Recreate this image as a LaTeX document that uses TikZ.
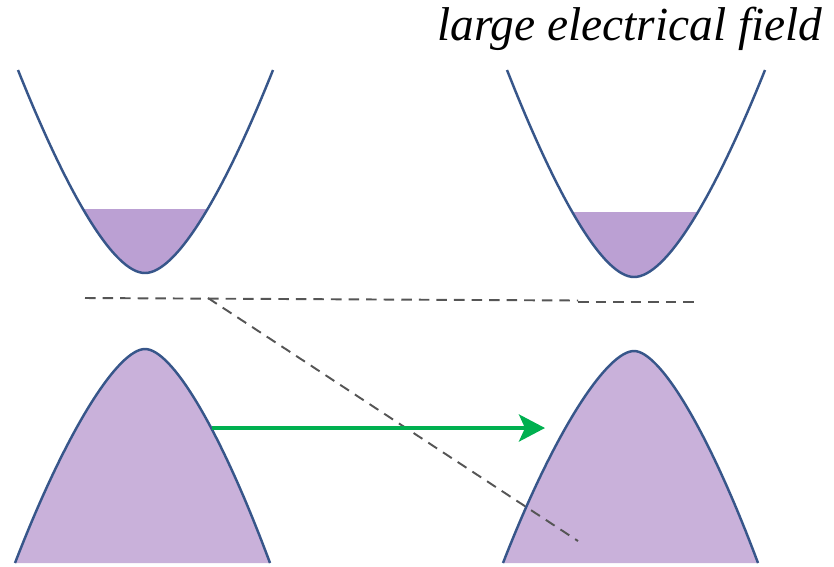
\documentclass[tikz,border=0pt]{standalone}
\usepackage{fontspec}
\setmainfont{Liberation Serif}
\usetikzlibrary{arrows.meta}
\definecolor{bandblue}{RGB}{55,86,138}
\definecolor{cbfill}{RGB}{187,160,211}
\definecolor{vbfill}{RGB}{201,177,218}
\definecolor{fieldgreen}{RGB}{0,176,80}
\definecolor{levelgray}{RGB}{85,85,85}
\begin{document}
\begin{tikzpicture}[x=0.02cm,y=-0.02cm,>=Stealth,
  band/.style={bandblue,line width=1.4pt},
  level/.style={levelgray,line width=1.1pt,dash pattern=on 6pt off 4pt},
  transfer/.style={-{Stealth[length=0.52cm,width=0.54cm,inset=0.12cm]},fieldgreen,line width=2.3pt}]
 \useasboundingbox (0,0) rectangle (834,566);
 \node[font=\fontsize{27}{31}\selectfont\itshape,anchor=base east,inner sep=0pt] (fieldlabel) at (823,40) {large electrical field};
 % left: without field
 \begin{scope}[shift={(145,273)}]
  \begin{scope} \clip (-150,-64) rectangle (150,10);
   \fill[cbfill] (-127,-203) .. controls (-75,-73) and (-30,0) .. (0,0) .. controls (30,0) and (76,-73) .. (128,-203) -- cycle; \end{scope}
  \draw[band] (-127,-203) .. controls (-75,-73) and (-30,0) .. (0,0) .. controls (30,0) and (76,-73) .. (128,-203);
 \end{scope}
 \begin{scope}[shift={(145,349)}]
  \fill[vbfill] (-130,214) .. controls (-77,77) and (-26,0) .. (0,0) .. controls (26,0) and (74,77) .. (125,214) -- cycle;
  \draw[band] (-130,214) .. controls (-77,77) and (-26,0) .. (0,0) .. controls (26,0) and (74,77) .. (125,214);
 \end{scope}
 % right: large field
 \begin{scope}[shift={(634,277)}]
  \begin{scope} \clip (-150,-65) rectangle (150,10);
   \fill[cbfill] (-127,-207) .. controls (-75,-75) and (-30,0) .. (0,0) .. controls (31,0) and (78,-75) .. (131,-207) -- cycle; \end{scope}
  \draw[band] (-127,-207) .. controls (-75,-75) and (-30,0) .. (0,0) .. controls (31,0) and (78,-75) .. (131,-207);
 \end{scope}
 \begin{scope}[shift={(634,351)}]
  \fill[vbfill] (-131,212) .. controls (-78,76) and (-26,0) .. (0,0) .. controls (25,0) and (73,76) .. (124,212) -- cycle;
  \draw[band] (-131,212) .. controls (-78,76) and (-26,0) .. (0,0) .. controls (25,0) and (73,76) .. (124,212);
 \end{scope}
 % levels
 \coordinate (fermiL) at (85,298); \coordinate (kink) at (208,298); \coordinate (splitA) at (578,300.5);
 \coordinate (splitB) at (578,301.7); \coordinate (fermiR) at (697,301.7); \coordinate (tilt) at (578,541);
 \draw[level] (fermiL) -- (splitA); \draw[level] (splitB) -- (fermiR); \draw[level] (kink) -- (tilt);
 \coordinate (hopStart) at (212,428); \coordinate (hopEnd) at (545,428);
 \draw[transfer] (hopStart) -- (hopEnd);
\end{tikzpicture}
\end{document}
